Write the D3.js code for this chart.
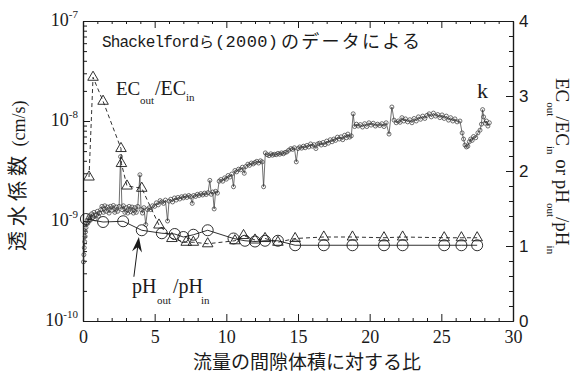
<!DOCTYPE html>
<html>
<head>
<meta charset="utf-8">
<script src="https://cdn.jsdelivr.net/npm/d3@7"></script>
<style>
  html, body { margin: 0; padding: 0; background: #fff; }
  svg { display: block; }
</style>
</head>
<body>
<svg id="chart" width="573" height="373"></svg>
<script>
// tick labels
const xTicks = [0, 5, 10, 15, 20, 25, 30];
const kTicks = [1e-10, 1e-9, 1e-8, 1e-7];
const ratioTicks = [0, 1, 2, 3, 4];

// hydraulic conductivity k (cm/s) vs pore volumes of flow
const kSeries = [
  [0.03,3.9e-10],[0.06,4.6e-10],[0.09,5.4e-10],[0.12,6.2e-10],[0.15,7.0e-10],[0.18,7.8e-10],
  [0.21,8.6e-10],[0.25,9.4e-10],[0.29,1.02e-9],[0.34,9.5e-10],[0.39,1.08e-9],
  [0.45,1.13e-9],[0.52,1.02e-9],[0.6,1.18e-9],[0.68,1.08e-9],[0.76,1.22e-9],[0.84,1.05e-9],
  [0.92,1.15e-9],[1.0,1.25e-9],[1.08,1.12e-9],[1.16,1.2e-9],[1.24,1.3e-9],
  [1.32,1.4e-9],[1.42,1.22e-9],[1.52,1.42e-9],[1.62,1.25e-9],[1.72,1.38e-9],[1.82,1.2e-9],
  [1.92,1.4e-9],[2.02,1.28e-9],[2.12,1.43e-9],[2.22,1.22e-9],[2.32,1.38e-9],[2.42,1.25e-9],
  [2.52,1.4e-9],[2.62,4.4e-9],[2.72,1.3e-9],[2.82,1.42e-9],[2.92,1.22e-9],[3.02,1.36e-9],
  [3.12,1.2e-9],[3.22,1.4e-9],[3.32,1.24e-9],[3.42,1.38e-9],[3.52,1.2e-9],[3.62,1.36e-9],
  [3.72,1.22e-9],[3.82,1.4e-9],[3.97,2.9e-9],[4.05,1.3e-9],[4.15,1.2e-9],[4.25,1.36e-9],
  [4.38,9.2e-10],[4.5,1.3e-9],[4.6,1.35e-9],[4.72,1.3e-9],[4.85,1.42e-9],
  [5.0,1.4e-9],[5.12,1.52e-9],[5.25,1.45e-9],[5.38,1.6e-9],[5.5,1.55e-9],[5.62,1.5e-9],
  [5.75,1.62e-9],[5.9,1.0e-9],[6.0,1.58e-9],[6.12,1.65e-9],[6.25,1.55e-9],[6.38,1.7e-9],
  [6.5,1.62e-9],[6.62,1.72e-9],[6.75,1.66e-9],[6.88,1.75e-9],[7.0,1.7e-9],[7.12,1.78e-9],
  [7.25,1.72e-9],[7.38,1.8e-9],[7.5,1.75e-9],[7.62,1.5e-9],[7.72,1.8e-9],[7.85,1.76e-9],
  [7.98,1.85e-9],[8.1,1.8e-9],[8.22,1.88e-9],[8.35,1.82e-9],[8.48,1.9e-9],[8.6,1.84e-9],
  [8.72,1.92e-9],[8.85,2.55e-9],[8.95,1.85e-9],[9.05,1.95e-9],[9.15,1.32e-9],[9.25,1.98e-9],
  [9.38,1.9e-9],[9.5,2.5e-9],[9.62,2.6e-9],[9.75,2.5e-9],[9.88,2.7e-9],[10.0,2.62e-9],
  [10.12,2.85e-9],[10.25,2.75e-9],[10.38,2.95e-9],[10.5,2.2e-9],[10.6,3.2e-9],[10.72,3.1e-9],
  [10.85,3.3e-9],[11.0,3.25e-9],[11.12,3.45e-9],[11.25,3.0e-9],[11.35,3.5e-9],[11.5,3.7e-9],
  [11.62,3.6e-9],[11.75,3.8e-9],[11.88,3.72e-9],[12.0,3.85e-9],[12.12,3.95e-9],[12.25,3.8e-9],
  [12.38,4.0e-9],[12.5,3.9e-9],[12.6,2.2e-9],[12.72,4.8e-9],[12.85,4.6e-9],[12.98,4.5e-9],
  [13.1,4.7e-9],[13.22,4.55e-9],[13.35,4.65e-9],[13.48,4.6e-9],[13.6,4.75e-9],[13.72,4.65e-9],
  [13.85,4.8e-9],[13.98,4.7e-9],[14.1,4.85e-9],[14.22,4.9e-9],[14.35,5.1e-9],[14.5,5.3e-9],
  [14.62,5.2e-9],[14.75,5.4e-9],[14.88,3.9e-9],[15.0,5.3e-9],[15.12,5.5e-9],[15.25,5.35e-9],
  [15.38,5.6e-9],[15.5,5.4e-9],[15.62,5.7e-9],[15.75,5.5e-9],[15.88,5.9e-9],[16.0,5.6e-9],
  [16.12,5.8e-9],[16.25,5.3e-9],[16.38,5.9e-9],[16.5,6.0e-9],[16.62,5.75e-9],[16.75,6.1e-9],
  [16.88,5.8e-9],[17.0,6.3e-9],[17.12,6.0e-9],[17.25,6.5e-9],[17.38,6.2e-9],[17.5,6.6e-9],
  [17.62,6.4e-9],[17.75,6.9e-9],[17.88,6.6e-9],[18.0,6.95e-9],[18.12,6.5e-9],[18.25,7.2e-9],
  [18.38,6.8e-9],[18.48,7.4e-9],[18.6,6.9e-9],[18.72,7.1e-9],[18.85,1.18e-8],[18.95,8.8e-9],
  [19.08,9.3e-9],[19.2,8.9e-9],[19.35,9.2e-9],[19.5,8.7e-9],[19.65,9.4e-9],[19.8,8.8e-9],
  [19.95,9.6e-9],[20.1,9.1e-9],[20.25,9.5e-9],[20.4,8.9e-9],[20.55,9.3e-9],[20.7,9.0e-9],
  [20.85,9.4e-9],[21.0,8.8e-9],[21.15,9.6e-9],[21.35,7.4e-9],[21.55,1.38e-8],[21.7,1.02e-8],
  [21.85,9.6e-9],[22.0,1.0e-8],[22.12,9.7e-9],[22.25,1.08e-8],[22.38,1.0e-8],[22.5,1.05e-8],
  [22.65,9.8e-9],[22.8,1.03e-8],[22.95,9.6e-9],[23.1,1.06e-8],[23.25,1.0e-8],[23.4,1.1e-8],
  [23.55,1.04e-8],[23.7,1.12e-8],[23.85,1.06e-8],[24.0,1.14e-8],[24.15,1.18e-8],[24.3,1.1e-8],
  [24.45,1.2e-8],[24.6,1.12e-8],[24.75,1.16e-8],[24.9,1.08e-8],[25.05,1.15e-8],[25.2,1.06e-8],
  [25.35,1.12e-8],[25.5,1.02e-8],[25.65,1.08e-8],[25.8,1.0e-8],[25.95,1.05e-8],[26.1,9.8e-9],
  [26.3,1.0e-8],[26.45,7.6e-9],[26.55,6.6e-9],[26.65,5.75e-9],[26.75,5.5e-9],[26.85,5.6e-9],
  [26.95,6.2e-9],[27.05,6.6e-9],[27.15,6.4e-9],[27.25,7.0e-9],[27.4,6.8e-9],[27.55,7.6e-9],
  [27.7,8.1e-9],[27.8,9.3e-9],[27.88,1.3e-8],[27.95,1.1e-8],[28.05,9.5e-9],[28.15,1.0e-8],
  [28.25,8.9e-9],[28.35,9.6e-9]
];

// EC_out/EC_in (right axis)
const ecRatio = [
  [0.42,1.92],[0.7,3.25],[1.4,2.93],[2.65,2.3],[2.68,2.1],[3.07,1.8],[4.1,1.77],[5.3,1.28],
  [6.2,1.1],[7.2,1.05],[7.7,1.05],[8.7,1.03],[10.6,1.07],[11.2,1.14],[12.0,1.08],[12.7,1.1],
  [13.6,1.05],[14.8,1.1],[16.8,1.12],[18.8,1.12],[21.0,1.11],[22.3,1.12],[25.2,1.11],
  [26.4,1.11],[27.5,1.11]
];

// pH_out/pH_in (right axis)
const phRatio = [
  [0.2,1.36],[1.4,1.32],[2.8,1.33],[4.1,1.21],[5.5,1.17],[6.4,1.16],[7.0,1.12],[7.7,1.15],
  [8.7,1.21],[10.5,1.1],[11.3,1.07],[12.0,1.06],[12.7,1.07],[13.6,1.07],[14.8,1.01],
  [16.8,1.01],[18.8,1.01],[21.0,1.01],[22.3,1.01],[25.2,1.01],[26.4,1.01],[27.5,1.01]
];

const INK = "#1a1a1a";
const SERIF = "'Liberation Serif', 'Times New Roman', serif";
const SANS = "'Liberation Sans', Arial, sans-serif";
const MONO = "'Liberation Mono', 'Courier New', monospace";
const CJK = "'Noto Sans CJK JP', sans-serif";

const svg = d3.select("#chart");
svg.append("rect").attr("width", 573).attr("height", 373).attr("fill", "#fff");

const L = 83, R = 513, T = 21, B = 321;
const x = d3.scaleLinear().domain([0, 30]).range([L, R]);
const yK = d3.scaleLog().domain([1e-10, 1e-7]).range([B, T]);
const yR = d3.scaleLinear().domain([0, 4]).range([B, T]);

// ---- axes ----
const xMinor = d3.range(0, 31).filter(v => v % 5 !== 0);
const kMinor = [];
[-10, -9, -8].forEach(e => d3.range(2, 10).forEach(m => kMinor.push(m * Math.pow(10, e))));
const rMinor = d3.range(0, 21).map(i => i / 5).filter(v => Math.abs(v - Math.round(v)) > 1e-6);

function styleAxis(g) {
  g.selectAll("path.domain").attr("stroke", INK).attr("stroke-width", 1.2);
  g.selectAll(".tick line").attr("stroke", INK).attr("stroke-width", 1);
}

// minor ticks
svg.append("g").attr("transform", `translate(0,${B})`)
  .call(d3.axisBottom(x).tickValues(xMinor).tickSize(-3).tickSizeOuter(0).tickFormat(""))
  .call(styleAxis);
svg.append("g").attr("transform", `translate(0,${T})`)
  .call(d3.axisTop(x).tickValues(xMinor).tickSize(-3).tickSizeOuter(0).tickFormat(""))
  .call(styleAxis);
svg.append("g").attr("transform", `translate(${L},0)`)
  .call(d3.axisLeft(yK).tickValues(kMinor).tickSize(-4).tickSizeOuter(0).tickFormat(""))
  .call(styleAxis);
svg.append("g").attr("transform", `translate(${R},0)`)
  .call(d3.axisRight(yR).tickValues(rMinor).tickSize(-4).tickSizeOuter(0).tickFormat(""))
  .call(styleAxis);

// major ticks + labels
svg.append("g").attr("transform", `translate(0,${B})`)
  .call(d3.axisBottom(x).tickValues(xTicks).tickSize(-7).tickSizeOuter(0).tickPadding(9))
  .call(styleAxis)
  .call(g => g.selectAll("text").attr("font-family", SERIF).attr("font-size", 18).attr("fill", INK));

svg.append("g").attr("transform", `translate(0,${T})`)
  .call(d3.axisTop(x).tickValues(xTicks).tickSize(-7).tickSizeOuter(0).tickFormat(""))
  .call(styleAxis);

const kAxis = svg.append("g").attr("transform", `translate(${L},0)`)
  .call(d3.axisLeft(yK).tickValues(kTicks).tickSize(-7).tickSizeOuter(0).tickPadding(5).tickFormat(""))
  .call(styleAxis);
kAxis.selectAll(".tick text")
  .attr("font-family", SERIF).attr("font-size", 18).attr("fill", INK).attr("dy", "0.25em")
  .each(function (d) {
    const t = d3.select(this);
    t.append("tspan").text("10");
    t.append("tspan").attr("font-size", 11).attr("dy", "-0.75em").text(String(Math.round(Math.log10(d))));
  });

svg.append("g").attr("transform", `translate(${R},0)`)
  .call(d3.axisRight(yR).tickValues(ratioTicks).tickSize(-7).tickSizeOuter(0).tickPadding(6)
    .tickFormat(d3.format("d")))
  .call(styleAxis)
  .call(g => g.selectAll("text").attr("font-family", SANS).attr("font-size", 17).attr("fill", INK));

// ---- series ----
const kLine = d3.line().x(d => x(d[0])).y(d => yK(d[1]));
const rLine = d3.line().x(d => x(d[0])).y(d => yR(d[1]));

svg.append("path").datum(kSeries).attr("d", kLine)
  .attr("fill", "none").attr("stroke", "#333").attr("stroke-width", 0.7);
svg.append("g").selectAll("circle").data(kSeries).join("circle")
  .attr("cx", d => x(d[0])).attr("cy", d => yK(d[1])).attr("r", 2)
  .attr("fill", "none").attr("stroke", "#333").attr("stroke-width", 0.7);

svg.append("path").datum(ecRatio).attr("d", rLine)
  .attr("fill", "none").attr("stroke", INK).attr("stroke-width", 0.9).attr("stroke-dasharray", "4,3");
svg.append("g").selectAll("path").data(ecRatio).join("path")
  .attr("transform", d => `translate(${x(d[0])},${yR(d[1])})`)
  .attr("d", d3.symbol(d3.symbolTriangle, 48))
  .attr("fill", "none").attr("stroke", INK).attr("stroke-width", 0.9);

svg.append("path").datum(phRatio).attr("d", rLine)
  .attr("fill", "none").attr("stroke", INK).attr("stroke-width", 0.9);
svg.append("g").selectAll("circle").data(phRatio).join("circle")
  .attr("cx", d => x(d[0])).attr("cy", d => yR(d[1])).attr("r", 5.5)
  .attr("fill", "none").attr("stroke", INK).attr("stroke-width", 0.9);

// ---- arrow pointing at pH curve ----
const tip = [x(3.9), yR(1.12)], tail = [x(3.55), yR(0.59)];
const dx = tip[0] - tail[0], dy = tip[1] - tail[1], len = Math.hypot(dx, dy);
const u = [dx / len, dy / len], n = [-u[1], u[0]];
svg.append("line").attr("x1", tail[0]).attr("y1", tail[1])
  .attr("x2", tip[0] - 10 * u[0]).attr("y2", tip[1] - 10 * u[1])
  .attr("stroke", INK).attr("stroke-width", 1);
svg.append("path")
  .attr("d", `M${tip[0]},${tip[1]}L${tip[0] - 15 * u[0] + 5 * n[0]},${tip[1] - 15 * u[1] + 5 * n[1]}` +
    `L${tip[0] - 10 * u[0]},${tip[1] - 10 * u[1]}L${tip[0] - 15 * u[0] - 5 * n[0]},${tip[1] - 15 * u[1] - 5 * n[1]}Z`)
  .attr("fill", INK);

// ---- text annotations ----
const ann = svg.append("g").attr("fill", INK);
ann.append("text").attr("x", 102).attr("y", 47).attr("font-family", MONO).attr("font-size", 16)
  .attr("textLength", 97).text("Shackelford");
ann.append("text").attr("x", 199).attr("y", 47).attr("font-family", CJK).attr("font-size", 15).text("ら");
ann.append("text").attr("x", 215).attr("y", 47).attr("font-family", MONO).attr("font-size", 17)
  .attr("textLength", 63).text("(2000)");
ann.append("text").attr("x", 281).attr("y", 48).attr("font-family", CJK).attr("font-size", 18)
  .attr("textLength", 139).text("のデータによる");

// EC_out/EC_in
ann.append("text").attr("x", 116).attr("y", 95).attr("font-family", SERIF).attr("font-size", 19).text("EC");
ann.append("text").attr("x", 140).attr("y", 104).attr("font-family", SERIF).attr("font-size", 11).text("out");
ann.append("text").attr("x", 155).attr("y", 95).attr("font-family", SERIF).attr("font-size", 20).text("/EC");
ann.append("text").attr("x", 186).attr("y", 101).attr("font-family", SERIF).attr("font-size", 11).text("in");

// k
ann.append("text").attr("x", 477).attr("y", 98).attr("font-family", SERIF).attr("font-size", 22).text("k");

// pH_out/pH_in
ann.append("text").attr("x", 132).attr("y", 293).attr("font-family", SERIF).attr("font-size", 20).text("pH");
ann.append("text").attr("x", 157).attr("y", 304).attr("font-family", SERIF).attr("font-size", 11).text("out");
ann.append("text").attr("x", 173).attr("y", 293).attr("font-family", SERIF).attr("font-size", 20).text("/pH");
ann.append("text").attr("x", 201).attr("y", 304).attr("font-family", SERIF).attr("font-size", 11).text("in");

// ---- axis titles ----
svg.append("text").attr("x", 193).attr("y", 369).attr("font-family", CJK).attr("font-size", 19)
  .attr("fill", INK).attr("textLength", 228).text("流量の間隙体積に対する比");

const yTitle = svg.append("text").attr("transform", "translate(25,251) rotate(-90)")
  .attr("fill", INK).attr("font-size", 20);
yTitle.append("tspan").attr("font-family", CJK).attr("letter-spacing", 5).text("透水係数");
yTitle.append("tspan").attr("font-family", SERIF).attr("font-size", 18).text(" (cm/s)");

const rTitle = svg.append("text").attr("transform", "translate(556,78) rotate(90)")
  .attr("fill", INK).attr("font-family", SERIF).attr("font-size", 19);
[["EC", 0], ["out", 1], ["/EC", 0], ["in", 1], [" or pH", 0], ["out", 1], ["/pH", 0], ["in", 1]]
  .forEach((p, i, arr) => {
    const prev = i > 0 ? arr[i - 1][1] : 0;
    const ts = rTitle.append("tspan").text(p[0]).attr("dy", (p[1] - prev) * 9);
    if (p[1]) ts.attr("font-size", 11);
  });
</script>
</body>
</html>
